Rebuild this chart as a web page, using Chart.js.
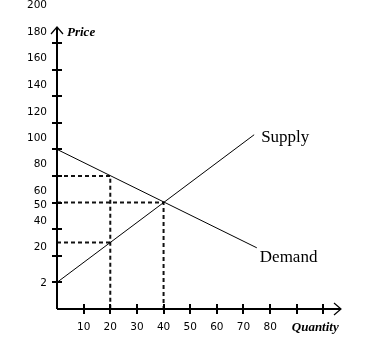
<!DOCTYPE html>
<html>
<head>
<meta charset="utf-8">
<script src="https://cdn.jsdelivr.net/npm/chart.js@4/dist/chart.umd.min.js"></script>
<style>
html,body{margin:0;padding:0;background:#fff;}
#wrap{width:384px;height:352px;}
</style>
</head>
<body>
<div id="wrap"><canvas id="c" width="384" height="352"></canvas></div>
<script>
// ---- data ----
const supplyQ = [0, 74];
const supplyP = [20, 131];
const demandQ = [0, 75];
const demandP = [120, 46];
const eqQ = 40, eqP = 80;          // equilibrium
const guideQ = 20;                  // quantity of the second guide
const guideDemandP = 100;           // demand price at guideQ
const guideSupplyP = 50;            // supply price at guideQ
const xTickMarks = [10,20,30,40,50,60,70,80,90,100];
const yTickMarks = [20,40,60,80,100,120,140,160,180,200];
const xTickLabels = [10,20,30,40,50,60,70,80];
const yLabelText = ['200','180','160','140','120','100','80','60','50','40','20','2'];
const yLabelAt = [228.6,208.3,188.7,168.0,148.1,128.3,109.0,88.7,78.2,65.6,46.5,19.2];
const xMax = 106.6, yMax = 232.3;

const pts = (xs, ys) => xs.map((x, i) => ({x, y: ys[i]}));
const dash = [4, 3];
const dashStyle = {borderColor:'#111', borderWidth:2, borderDash:dash, pointRadius:0, fill:false, tension:0};

const axisPlugin = {
  id: 'axisPlugin',
  afterDatasetsDraw(chart) {
    const ctx = chart.ctx, xs = chart.scales.x, ys = chart.scales.y;
    const x0 = xs.getPixelForValue(0), y0 = ys.getPixelForValue(0);
    const xEnd = xs.getPixelForValue(xMax) , yTop = ys.getPixelForValue(yMax) + 27;
    ctx.save();
    ctx.strokeStyle = '#000';
    ctx.lineWidth = 2;
    ctx.beginPath();
    ctx.moveTo(x0, y0); ctx.lineTo(xEnd, y0);
    ctx.moveTo(x0, y0); ctx.lineTo(x0, yTop);
    ctx.stroke();
    // tick marks crossing the axes
    ctx.lineWidth = 2;
    ctx.beginPath();
    xTickMarks.forEach(v => { const p = Math.round(xs.getPixelForValue(v)); ctx.moveTo(p, y0 - 5); ctx.lineTo(p, y0 + 5); });
    yTickMarks.forEach(v => { const p = Math.round(ys.getPixelForValue(v)); ctx.moveTo(x0 - 5, p); ctx.lineTo(x0 + 5, p); });
    ctx.stroke();
    // arrow heads
    ctx.lineWidth = 1.2;
    ctx.beginPath();
    ctx.moveTo(xEnd - 7, y0 - 6); ctx.lineTo(xEnd, y0); ctx.lineTo(xEnd - 7, y0 + 6);
    ctx.moveTo(x0 - 6, yTop + 7); ctx.lineTo(x0, yTop); ctx.lineTo(x0 + 6, yTop + 7);
    ctx.stroke();
    // texts
    ctx.fillStyle = '#000';
    ctx.textBaseline = 'middle';
    ctx.textAlign = 'left';
    ctx.font = 'italic bold 13px "Liberation Serif", serif';
    ctx.fillText('Price', x0 + 10, yTop + 6);
    ctx.fillText('Quantity', xs.getPixelForValue(90) - 5, y0 + 19);
    ctx.font = '17px "Liberation Serif", serif';
    const sx = xs.getPixelForValue(supplyQ[supplyQ.length-1]), sy = ys.getPixelForValue(supplyP[supplyP.length-1]);
    ctx.fillText('Supply', sx + 7, sy + 3);
    const dx = xs.getPixelForValue(demandQ[demandQ.length-1]), dy = ys.getPixelForValue(demandP[demandP.length-1]);
    ctx.fillText('Demand', dx + 3, dy + 10);
    ctx.restore();
  }
};

new Chart(document.getElementById('c'), {
  type: 'line',
  data: {
    datasets: [
      {data: pts(supplyQ, supplyP), borderColor:'#000', borderWidth:1, pointRadius:0, fill:false, tension:0},
      {data: pts(demandQ, demandP), borderColor:'#000', borderWidth:1, pointRadius:0, fill:false, tension:0},
      Object.assign({data: [{x:0,y:guideDemandP},{x:guideQ,y:guideDemandP},{x:guideQ,y:0}]}, dashStyle),
      Object.assign({data: [{x:0,y:guideSupplyP},{x:guideQ,y:guideSupplyP}]}, dashStyle),
      Object.assign({data: [{x:0,y:eqP},{x:eqQ,y:eqP},{x:eqQ,y:0}]}, dashStyle)
    ]
  },
  options: {
    responsive: false,
    animation: false,
    events: [],
    layout: {padding: {top: 0, right: 43, left: 0, bottom: 0}},
    plugins: {legend: {display: false}, tooltip: {enabled: false}},
    scales: {
      x: {
        type: 'linear', min: 0, max: xMax,
        grid: {display: false, drawTicks: false},
        border: {display: false},
        afterBuildTicks: s => { s.ticks = xTickLabels.map(v => ({value: v})); },
        afterFit: s => { s.height = 43; },
        ticks: {autoSkip: false, maxRotation: 0, padding: 12, color: '#000',
                font: {family: '"DejaVu Sans", sans-serif', size: 10.5},
                callback: (v) => String(v)}
      },
      y: {
        type: 'linear', min: 0, max: yMax,
        grid: {display: false, drawTicks: false},
        border: {display: false},
        afterBuildTicks: s => { s.ticks = yLabelAt.map(v => ({value: v})); },
        afterFit: s => { s.width = 57; s.paddingTop = 0; s.paddingBottom = 0; },
        ticks: {autoSkip: false, padding: 10, color: '#000',
                font: {family: '"DejaVu Sans", sans-serif', size: 10.5, lineHeight: 0.05},
                callback: (v, i) => yLabelText[i]}
      }
    }
  },
  plugins: [axisPlugin]
});
</script>
</body>
</html>
